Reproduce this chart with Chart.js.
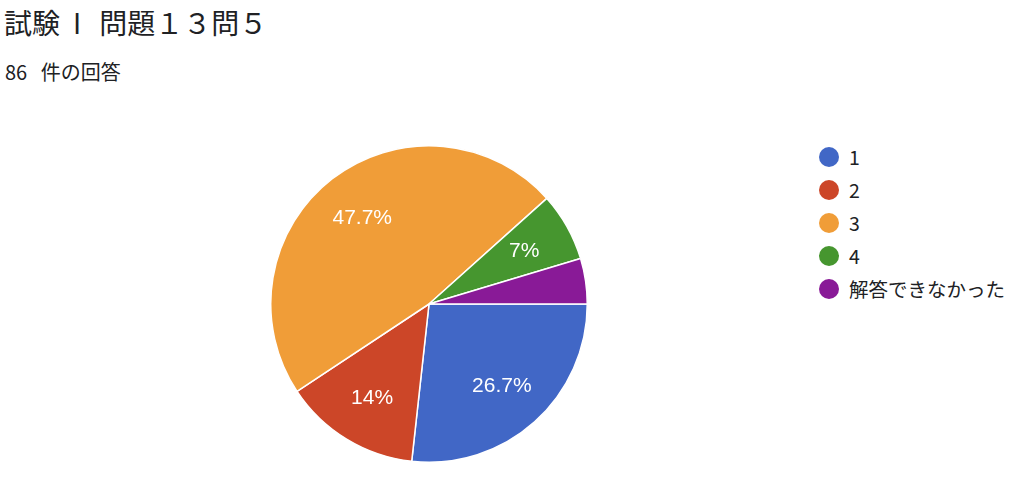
<!DOCTYPE html>
<html>
<head>
<meta charset="utf-8">
<script src="https://cdn.jsdelivr.net/npm/chart.js@4"></script>
<style>
  body { margin: 0; width: 1024px; height: 480px; background: #fff; overflow: hidden;
         font-family: "Noto Sans CJK JP", "Noto Sans", sans-serif; color: #202124; position: relative; }
  #title { position: absolute; left: 4px; top: 2px; font-size: 28px; line-height: 40px; white-space: nowrap; }
  #title .roman { margin: 0 18px 0 13px; }
  #sub { position: absolute; left: 5px; top: 57px; font-size: 20px; line-height: 30px; word-spacing: 9px; }
  #wrap { position: absolute; left: 270px; top: 145px; width: 318px; height: 318px; }
  #legend { position: absolute; left: 819px; top: 140px; }
  .item { height: 33px; display: flex; align-items: center; font-size: 19.5px; }
  .dot { width: 20px; height: 20px; border-radius: 50%; margin-right: 10px; }
</style>
</head>
<body>
<div id="title">試験<span class="roman">I</span>問題１３問５</div>
<div id="sub">86 件の回答</div>
<div id="wrap"><canvas id="pie"></canvas></div>
<div id="legend"></div>
<script>
'use strict';
let labels = ['1', '2', '3', '4', '解答できなかった'];
let counts = [23, 12, 41, 6, 4];
let colors = ['#4167c6', '#cc4628', '#f09d38', '#46962f', '#891a97'];

let total = counts.reduce((a, b) => a + b, 0);

function pct(v) {
  let p = Math.round(v / total * 1000) / 10;
  return p + '%';
}

// legend
let legendEl = document.getElementById('legend');
for (let i = 0; i < labels.length; i++) {
  let row = document.createElement('div');
  row.className = 'item';
  let dot = document.createElement('span');
  dot.className = 'dot';
  dot.style.background = colors[i];
  row.appendChild(dot);
  row.appendChild(document.createTextNode(labels[i]));
  legendEl.appendChild(row);
}

// percent labels inside slices
let sliceLabels = {
  id: 'sliceLabels',
  afterDatasetsDraw(chart) {
    let ctx = chart.ctx;
    let meta = chart.getDatasetMeta(0);
    ctx.save();
    ctx.fillStyle = '#fff';
    ctx.font = '21px "Liberation Sans", Arial, sans-serif';
    ctx.textAlign = 'center';
    ctx.textBaseline = 'middle';
    meta.data.forEach((arc, i) => {
      if (counts[i] / total < 0.05) return;
      let p = arc.getProps(['x', 'y', 'startAngle', 'endAngle', 'outerRadius']);
      let a = (p.startAngle + p.endAngle) / 2;
      let r = p.outerRadius * 0.69;
      ctx.fillText(pct(counts[i]), p.x + Math.cos(a) * r, p.y + Math.sin(a) * r + 1);
    });
    ctx.restore();
  }
};

new Chart(document.getElementById('pie'), {
  type: 'pie',
  data: {
    labels: labels,
    datasets: [{
      data: counts,
      backgroundColor: colors,
      borderColor: '#fff',
      borderWidth: 1.5
    }]
  },
  options: {
    responsive: true,
    maintainAspectRatio: false,
    animation: false,
    rotation: 90,
    layout: { padding: 0 },
    plugins: {
      legend: { display: false },
      tooltip: { enabled: false }
    }
  },
  plugins: [sliceLabels]
});
</script>
</body>
</html>
